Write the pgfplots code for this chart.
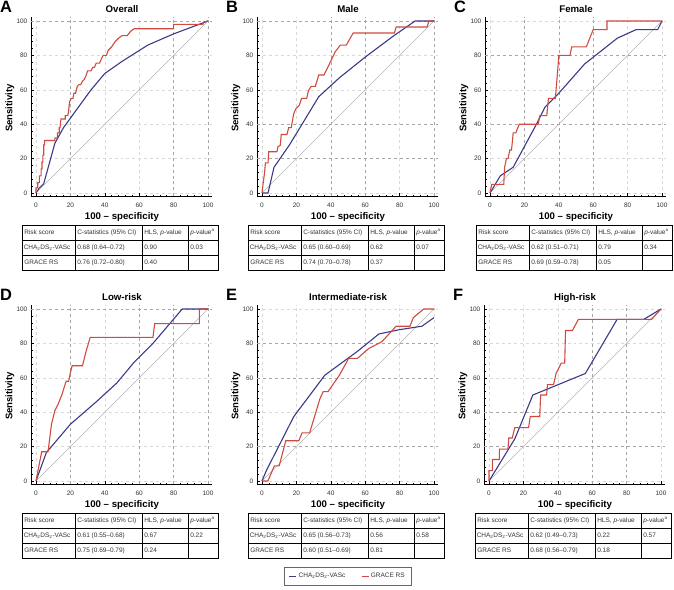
\documentclass[border=0pt]{standalone}
\usepackage{fontspec}
\setmainfont{Liberation Sans}
\usepackage{pgfplots}
\pgfplotsset{compat=1.18}

\definecolor{chablue}{RGB}{58,58,135}
\definecolor{gracered}{RGB}{208,74,64}
\newcommand{\fs}[1]{\fontsize{#1}{#1}\selectfont}

\pgfplotsset{
  roc/.style={
    scale only axis, width=181.46bp, height=179.74bp,
    anchor=south west,
    xmin=-3, xmax=102.5, ymin=-2, ymax=102.5,
    axis x line*=bottom, axis y line*=left,
    axis line style={-, black, line width=0.6bp},
    xtick={0,20,...,100}, ytick={0,20,...,100},
    minor x tick num=4, minor y tick num=4,
    tick align=inside, major tick length=3bp, minor tick length=1.8bp,
    tick style={black, line width=0.5bp},
    grid=major, major grid style={dashed, black!15, line width=0.45bp},
    ticklabel style={font=\fs{6.5}, text=black!80},
    xticklabel style={yshift=-3bp},
    /pgf/number format/assume math mode=true,
    extra x tick style={grid=major, major grid style={dashed, black!35, line width=0.5bp}, major tick length=0bp},
    extra y tick style={grid=major, major grid style={dashed, black!35, line width=0.5bp}, major tick length=0bp},
    extra x tick labels={}, extra y tick labels={},
    clip=false,
  },
  diag/.style={black!30, line width=0.4bp, forget plot},
  cha/.style={chablue, line width=1.1bp},
  grace/.style={gracered, line width=1.1bp},
}

% table under a panel: #1 left, #2 top (px from top), #3-#5 CHA row, #6-#7 GRACE row
\newcommand{\rtable}[7]{%
  \begin{scope}[shift={(#1bp,-#2bp)}, line width=0.6bp]
    \draw (0,0) rectangle (196bp,-45bp);
    \draw (0,-15bp) -- (196bp,-15bp) (0,-30bp) -- (196bp,-30bp);
    \draw (53bp,0) -- (53bp,-45bp) (120bp,0) -- (120bp,-45bp) (166bp,0) -- (166bp,-45bp);
    \begin{scope}[every node/.style={anchor=west, inner sep=0pt, font=\fs{6.5}, text=black!80}]
      \node at (2bp,-7.5bp) {Risk score};
      \node at (55bp,-7.5bp) {C-statistics (95\% CI)};
      \node at (122bp,-7.5bp) {HLS, \textit{p}-value};
      \node at (168bp,-7.5bp) {\textit{p}-value\textsuperscript{a}};
      \node at (1.5bp,-22.5bp) {CHA\textsubscript{2}DS\textsubscript{2}-VASc};
      \node at (55bp,-22.5bp) {#3};
      \node at (122bp,-22.5bp) {#4};
      \node at (168bp,-22.5bp) {#5};
      \node at (2bp,-37.5bp) {GRACE RS};
      \node at (55bp,-37.5bp) {#6};
      \node at (122bp,-37.5bp) {#7};
    \end{scope}
  \end{scope}}

% panel letter, title, axis labels: #1 x of data 0, #2 row offset, #3 letter, #4 title
\newcommand{\plabels}[4]{%
  \node[anchor=base west, inner sep=0pt, font=\fs{16.5}\bfseries] at ({#1bp-36bp},{-12.7bp-#2bp}) {#3};
  \node[anchor=base, inner sep=0pt, font=\fs{9.7}\bfseries] at ({#1bp+86bp},{-12.7bp-#2bp}) {#4};
  \node[rotate=90, inner sep=0pt, font=\fs{9.6}\bfseries] at ({#1bp-26bp},{-108bp-#2bp}) {Sensitivity};
  \node[anchor=base, inner sep=0pt, font=\fs{9.7}\bfseries] at ({#1bp+86bp},{-219bp-#2bp}) {100 – specificity};}

\begin{document}
\begin{tikzpicture}
\useasboundingbox (0,0) rectangle (674bp,-590bp);

% ---------- A: Overall
\begin{axis}[roc, at={(30.84bp,-196.44bp)}, extra x ticks={20,80,100}, extra y ticks={100}]
\addplot[diag] coordinates {(0,0)(100,100)};
\addplot[cha] coordinates {(0,0)(2,3)(4.5,5.5)(11,29)(16,38)(24,49)(32,60)(40,69.5)(50,76.5)(65,86)(80,92.5)(92,97)(100,100)};
\addplot[grace] coordinates {(0,0)(0,3)(1,3)(1,6)(2,6)(2,10)(3,10)(3,14)(3.5,14)(3.5,18)(4,18)(4,22)(4.5,22)(4.5,28)(5,28)(5,30.5)(11,30.5)(11,32)(12.5,32)(12.5,35)(13.5,35)(13.5,38)(14,38)(14.5,43)(17,43)(17,45)(18.5,45)(19,48)(19.5,53)(20.5,55)(21.5,55)(22,58)(23,58)(24,62)(25,63)(26,63)(27,65)(28,66)(29,68)(30,71)(32,71)(33,73)(34,73)(35,75.5)(37,75.5)(38,78)(39,80)(41,80)(42,83)(44,85)(46,88)(48,90)(50,91.5)(53,91.5)(55,94)(57,95.5)(80,95.5)(80,98)(97,98)(97.5,99.5)(100,100)};
\end{axis}

% ---------- B: Male
\begin{axis}[roc, at={(256.84bp,-196.44bp)}, extra x ticks={40,60,100}, extra y ticks={20,40,100}]
\addplot[diag] coordinates {(0,0)(100,100)};
\addplot[cha] coordinates {(0,0)(3.5,0)(7,15)(16,28)(33,56)(45,67)(60,79)(76,91)(89,100)(100,100)};
\addplot[grace] coordinates {(0,0)(0.6,5)(1.5,12)(2,17.5)(3.5,17.5)(3.9,24)(8.7,24)(9.3,27)(10.6,27.7)(11.2,34)(14.5,34)(15.5,38)(17,38)(18.4,46)(19.7,49)(21.7,51)(23,55)(26,55)(27,59.5)(28.6,62)(31,62)(33,68.6)(36,68.6)(38.7,74)(42.5,82)(45.5,86)(49,86)(53,93)(77,93)(78,96.5)(96,96.5)(97,100)(100,100)};
\end{axis}

% ---------- C: Female
\begin{axis}[roc, at={(484.84bp,-196.44bp)}, extra x ticks={20,40,60}, extra y ticks={40,80}]
\addplot[diag] coordinates {(0,0)(100,100)};
\addplot[cha] coordinates {(0,0)(6,10)(13.5,15)(27,40)(32,50)(40,58)(55,75)(74,90)(85,95)(97.5,95)(100,100)};
\addplot[grace] coordinates {(0,0)(1,5)(8,5)(8.5,15)(9.5,20)(10.5,20)(11.5,25)(12.5,25)(13.5,35)(15,35)(17,40)(28,40)(29,45)(33,45)(34,55)(38,55)(39.5,73)(40,80)(46.5,80)(47.5,85)(56,85)(60,95)(68,95)(68,100)(100,100)};
\end{axis}

% ---------- D: Low-risk
\begin{axis}[roc, at={(30.84bp,-484.44bp)}, extra x ticks={20,60,80,100}, extra y ticks={100}]
\addplot[diag] coordinates {(0,0)(100,100)};
\addplot[cha] coordinates {(0,0)(6,16.5)(20,33)(35,46)(47,57)(57,69)(68,80)(85,100)(100,100)};
\addplot[grace] coordinates {(0,0)(3.3,17)(7,17)(9,33)(11,41)(13,45)(15,50)(17.5,58)(19,58)(20,63)(21,67)(27,67)(29,75)(31.5,83.5)(68,83.5)(69,91.5)(95,91.5)(95,100)(100,100)};
\end{axis}

% ---------- E: Intermediate-risk
\begin{axis}[roc, at={(256.84bp,-484.44bp)}, extra y ticks={20,60,80},
  legend style={at={(0.502,-0.51)}, anchor=center, draw=black!60, line width=0.6bp,
    font=\fs{6.5}, text=black!80, legend columns=2, inner xsep=5bp, inner ysep=4bp,
    /tikz/every even column/.append style={column sep=14bp}},
  legend image code/.code={\draw[#1, line width=0.6bp] (0bp,0bp) -- (7bp,0bp);}]
\addplot[diag] coordinates {(0,0)(100,100)};
\addplot[cha] coordinates {(0,0)(2.5,6)(18.5,37.5)(36.5,61.5)(55,75)(68,85.5)(80,88)(93,90)(100,95)};
\addplot[grace] coordinates {(0,0)(3.4,0)(7.2,8.8)(10,8.8)(13.8,23.4)(21.4,23.4)(23.3,28)(27.7,28)(33.7,47.9)(35.6,52)(38.4,52)(45,61.5)(50.4,71.3)(55.5,71.3)(62,77)(69.7,81)(78,90)(86,90)(88,95)(94,100)(100,100)};
\legend{CHA\textsubscript{2}DS\textsubscript{2}-VASc, GRACE RS}
\end{axis}

% ---------- F: High-risk
\begin{axis}[roc, at={(483.84bp,-484.44bp)}, extra x ticks={60,80}, extra y ticks={20,40}]
\addplot[diag] coordinates {(0,0)(100,100)};
\addplot[cha] coordinates {(0,0)(15,24.5)(25.5,50)(56,62.5)(74.5,94)(90,94)(100,100)};
\addplot[grace] coordinates {(0,0)(0,6)(2,6)(2,12.5)(6,12.5)(6,18.5)(11,18.5)(11.5,25)(13.5,25)(15,31)(23,31)(24,37.5)(29.5,37.5)(30,50)(33.5,50)(34,56)(37.5,56)(39,62.5)(42,68.5)(44,68.5)(44.5,87.5)(48.5,87.5)(52,94)(94.5,94)(100,100)};
\end{axis}

\plabels{36}{0}{A}{Overall}
\plabels{262}{0}{B}{Male}
\plabels{490}{0}{C}{Female}
\plabels{36}{288}{D}{Low-risk}
\plabels{262}{288}{E}{Intermediate-risk}
\plabels{489}{288}{F}{High-risk}

\rtable{22}{225}{0.68 (0.64–0.72)}{0.90}{0.03}{0.76 (0.72–0.80)}{0.40}
\rtable{248}{225}{0.65 (0.60–0.69)}{0.62}{0.07}{0.74 (0.70–0.78)}{0.37}
\rtable{476}{225}{0.62 (0.51–0.71)}{0.79}{0.34}{0.69 (0.59–0.78)}{0.05}
\rtable{22}{513}{0.61 (0.55–0.68)}{0.67}{0.22}{0.75 (0.69–0.79)}{0.24}
\rtable{248}{513}{0.65 (0.56–0.73)}{0.56}{0.58}{0.60 (0.51–0.69)}{0.81}
\rtable{475}{513}{0.62 (0.49–0.73)}{0.22}{0.57}{0.68 (0.56–0.79)}{0.18}
\end{tikzpicture}
\end{document}
